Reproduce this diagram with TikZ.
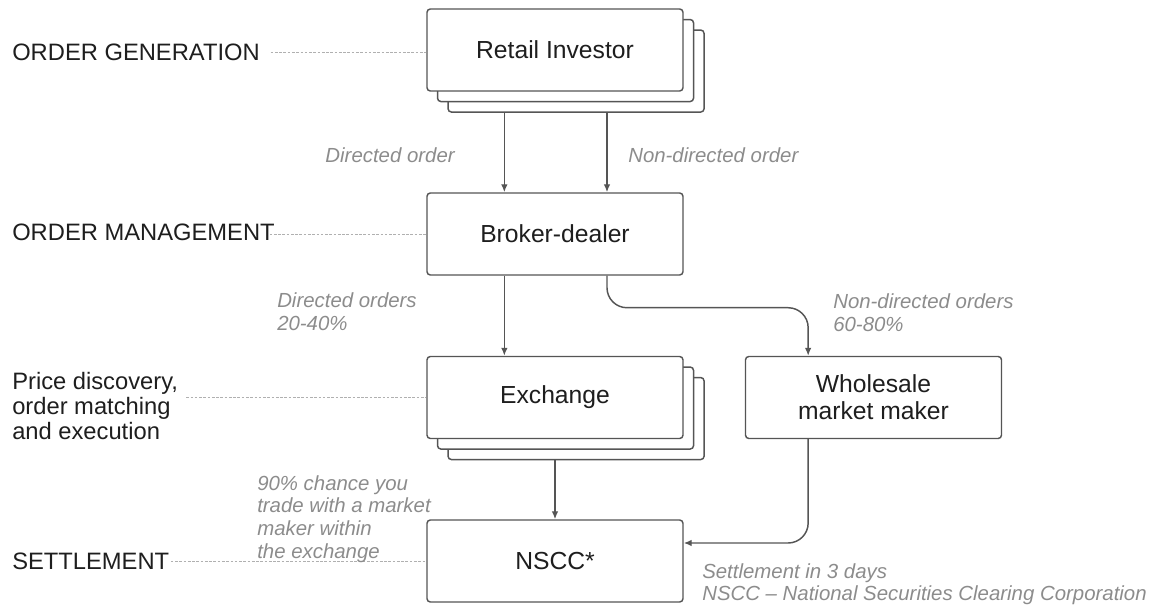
\documentclass[tikz,border=0pt]{standalone}
\usepackage{fontspec}
\setmainfont{Liberation Sans}
\usetikzlibrary{arrows.meta,shadows}
\definecolor{linegray}{HTML}{555555}
\definecolor{notegray}{HTML}{8C8C8C}
\definecolor{levelgray}{HTML}{B0B0B0}
\definecolor{inkdark}{HTML}{1E1E1E}
\tikzset{
  stage/.style={draw=linegray, line width=1.1pt, fill=white, rounded corners=2.5pt,
    minimum width=192pt, minimum height=61.5pt, align=center, text=inkdark,
    font=\fontsize{18.5}{20}\selectfont},
  stack/.style={stage, double copy shadow={shadow xshift=7.9pt, shadow yshift=-7.9pt}},
  level/.style={anchor=west, inner sep=0pt, align=left, text=inkdark,
    font=\fontsize{17.8}{18.5}\selectfont},
  note/.style={inner sep=0pt, align=left, text=notegray,
    font=\fontsize{15.3}{17}\selectfont\itshape},
  flow/.style={draw=linegray, line width=1.1pt, -{Latex[length=6pt,width=5pt]}},
  levelline/.style={draw=levelgray, line width=0.6pt, dash pattern=on 2pt off 1.2pt}
}
\begin{document}
\begin{tikzpicture}[x=0.75pt, y=-0.75pt]
    \useasboundingbox (0,0) rectangle (1154,605);

    \node [stack] (ret) at (555, 50) {Retail Investor};
    \node [stage] (brk) at (555, 234) {Broker-dealer};
    \node [stack] (exc) at (555, 397.5) {Exchange};
    \node [stage] (whl) at (873.5, 397.5) {Wholesale\\market maker};
    \node [stage] (nscc) at (555, 561) {NSCC*};

    \node [level] (lgen) at (12, 52) {ORDER GENERATION};
    \node [level] (lman) at (12, 232) {ORDER MANAGEMENT};
    \node [level] (lexe) at (12, 406) {Price discovery,\\order matching\\and execution};
    \node [level] (lset) at (12, 561) {SETTLEMENT};

    \draw [levelline] ([xshift=8pt]lgen.east) -- (lgen.east -| ret.west);
    \draw [levelline] ([xshift=-4pt]lman.east |- brk.west) -- (brk.west);
    \draw [levelline] ([xshift=6pt]lexe.east |- exc.west) -- (exc.west);
    \draw [levelline] ([xshift=1pt]lset.east |- nscc.west) -- (nscc.west);

    \draw [flow] ([xshift=-38pt, yshift=-15.8pt]ret.south) -- ([xshift=-38pt]brk.north);
    \draw [flow] ([xshift=39pt, yshift=-15.8pt]ret.south) -- ([xshift=39pt]brk.north);
    \draw [flow] ([xshift=-38pt]brk.south) -- ([xshift=-38pt]exc.north);
    \draw [flow, rounded corners=15pt] ([xshift=39pt]brk.south) -- ++(0,-24pt) -| ([xshift=-49pt]whl.north);
    \draw [flow] ([yshift=-15.8pt]exc.south) -- (nscc.north);
    \draw [flow, rounded corners=15pt] ([xshift=-49pt]whl.south) |- ([yshift=13.5pt]nscc.east);

    \node [note, anchor=east] (ndir) at (455, 155) {Directed order};
    \node [note, anchor=west] (nnon) at (628, 155) {Non-directed order};
    \node [note, anchor=west] (ndirs) at (277, 312) {Directed orders\\20-40\%};
    \node [note, anchor=west] (nnons) at (833, 313) {Non-directed orders\\60-80\%};
    \node [note, anchor=west] (nchance) at (257, 519) {90\% chance you\\trade with a market\\maker within\\the exchange};
    \node [note, anchor=west, font=\fontsize{15.3}{16.5}\selectfont\itshape] (nsett) at (702, 584) {Settlement in 3 days\\NSCC – National Securities Clearing Corporation};
\end{tikzpicture}
\end{document}
